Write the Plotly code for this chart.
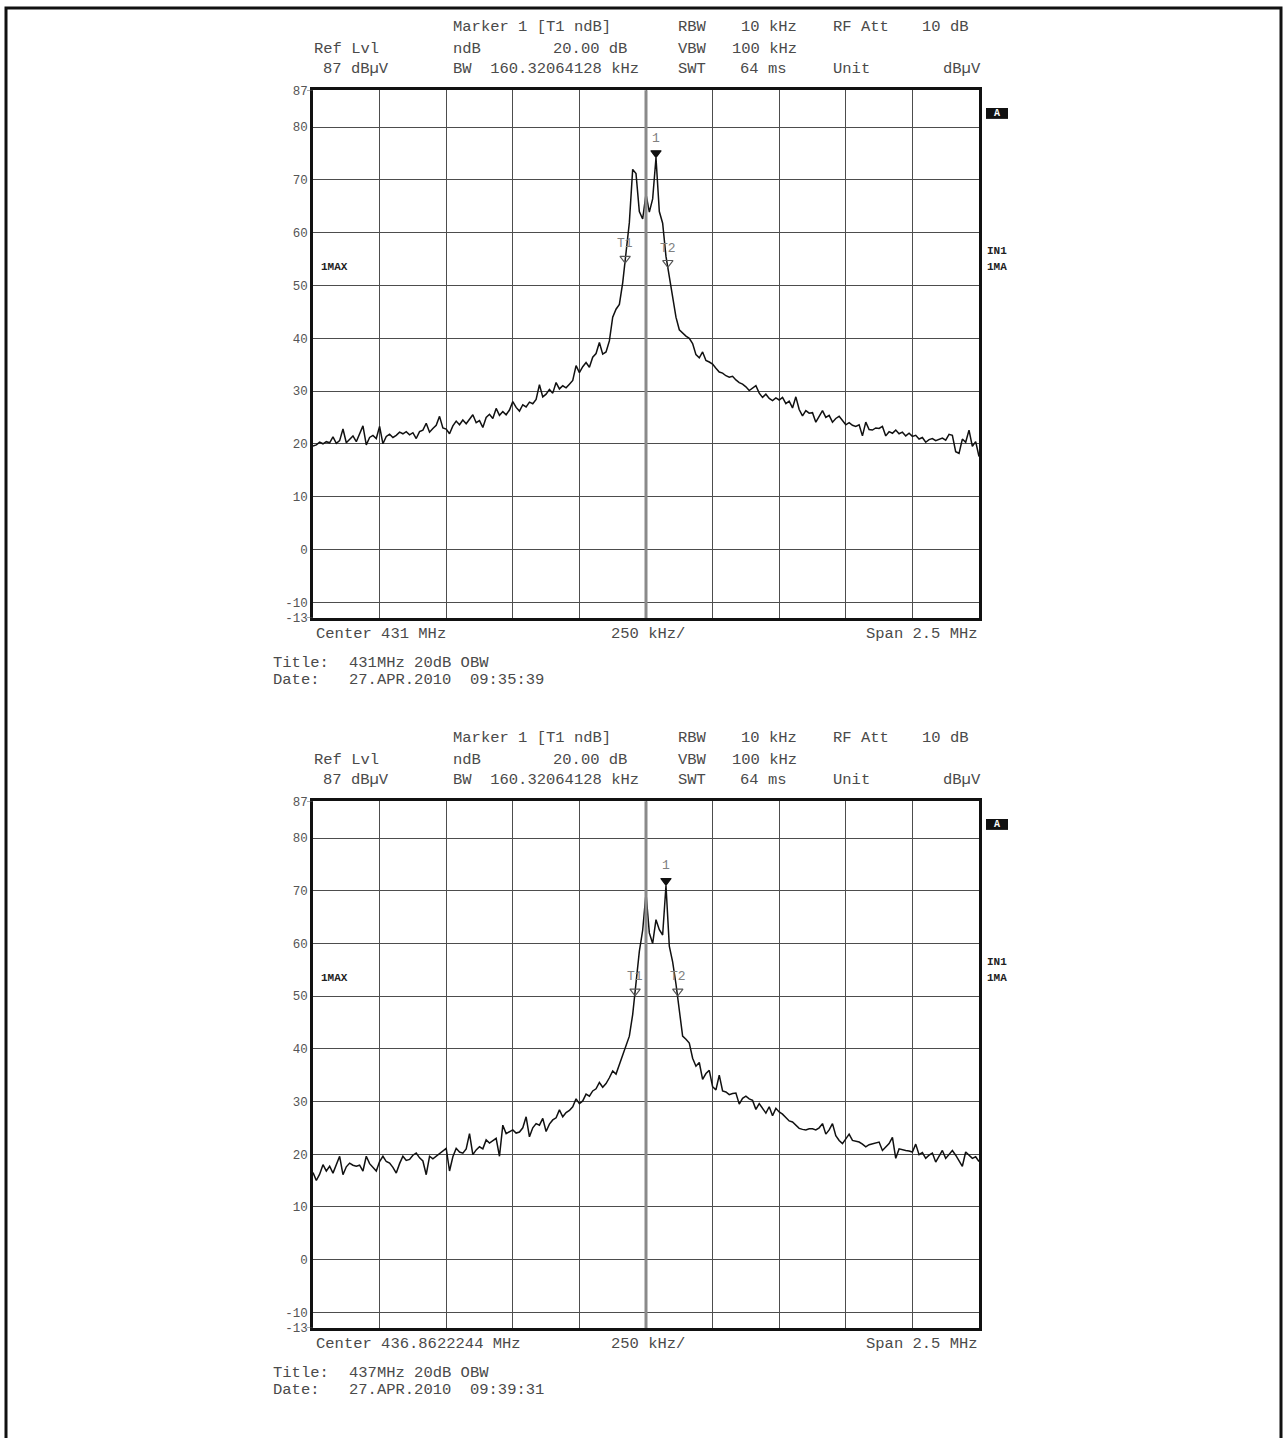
import numpy as np
import plotly.graph_objects as go

W, H = 1284, 1438

# Sweep: 201 points over a 2.5 MHz span (12.5 kHz per point)
SPAN_MHZ = 2.5
N_POINTS = 201

# Trace 1 (centre 431 MHz), level in dBµV
level_431 = [
    19.6, 19.8, 20.3, 20.0, 20.4, 20.2, 21.3, 20.1, 20.6, 22.8,
    20.2, 20.8, 21.5, 20.4, 21.9, 23.4, 19.8, 21.2, 21.6, 21.0,
    23.3, 20.0, 21.4, 21.8, 21.2, 21.6, 22.2, 21.9, 22.3, 21.7,
    22.1, 21.0, 22.3, 22.6, 23.9, 22.2, 22.9, 23.5, 25.2, 23.0,
    22.8, 21.9, 23.4, 24.3, 23.6, 24.5, 23.8, 24.6, 25.5, 24.0,
    24.4, 23.1, 25.0, 25.6, 24.8, 26.7, 25.4, 26.1, 25.5, 26.4,
    28.0, 26.9, 26.2, 27.4, 27.0, 27.9, 27.6, 28.4, 31.2, 28.9,
    29.4, 30.3, 29.6, 31.6, 30.4, 31.0, 30.6, 31.3, 32.0, 34.8,
    33.5, 34.6, 35.4, 34.5, 36.4, 37.1, 39.2, 37.0, 37.4, 39.5,
    44.0, 45.5, 46.4, 50.5, 55.8, 61.9, 72.0, 71.2, 64.0, 62.6,
    67.3, 63.9, 66.4, 74.2, 64.0, 61.8, 55.5, 51.5, 47.5, 44.0,
    41.6, 40.9, 40.4, 40.0, 39.0, 36.9, 36.3, 37.4, 35.8, 35.5,
    35.1, 34.3, 33.6, 33.4, 32.9, 32.6, 32.8, 32.1, 31.6, 31.3,
    30.8, 30.1, 30.6, 31.0, 29.6, 28.8, 29.4, 28.6, 28.2, 28.7,
    28.3, 28.8, 27.6, 28.1, 26.8, 28.9, 26.5, 25.3, 26.3, 25.8,
    25.9, 24.1, 25.2, 26.3, 25.0, 25.4, 24.1, 24.8, 25.2, 24.4,
    23.6, 24.0, 23.5, 23.3, 23.6, 21.5, 24.1, 22.7, 22.6, 23.0,
    22.9, 23.3, 21.5, 22.3, 22.0, 22.6, 21.9, 22.2, 21.5, 22.0,
    21.4, 21.6, 20.9, 21.2, 20.3, 20.8, 21.0, 20.6, 20.9, 21.1,
    20.7, 21.8, 21.6, 18.5, 18.2, 20.9, 20.3, 22.6, 19.5, 20.4,
    17.6,
]

# Trace 2 (centre 436.8622244 MHz), level in dBµV
level_437 = [
    16.5, 15.0, 16.2, 18.0, 16.8, 17.7, 16.4, 18.2, 19.6, 16.1,
    17.6, 18.3, 17.9, 17.7, 17.9, 16.8, 19.6, 18.2, 17.5, 16.8,
    18.6, 19.6, 18.6, 18.3, 17.5, 16.4, 18.2, 19.6, 18.8, 19.0,
    19.8, 20.2, 19.3, 18.7, 16.1, 19.6, 19.1, 19.6, 20.0, 20.5,
    21.1, 16.8, 19.5, 21.1, 20.4, 20.2, 21.0, 23.9, 19.9, 20.8,
    21.4, 21.0, 22.7, 22.1, 22.5, 23.0, 19.6, 25.5, 23.9, 24.2,
    24.6, 24.0, 24.2, 25.0, 27.1, 23.3, 25.0, 25.8, 25.5, 26.8,
    24.3, 25.7, 26.5, 26.9, 28.4, 27.1, 27.9, 28.3, 29.0, 30.5,
    29.6, 30.1, 31.4, 31.0, 32.0, 32.4, 33.6, 32.7, 33.4, 34.5,
    35.8, 35.2, 36.9, 38.8, 40.6, 42.4, 46.5, 53.0, 58.5, 62.5,
    69.5, 62.0, 60.0, 64.5, 62.6, 61.6, 71.0, 59.5, 56.5, 52.3,
    47.2, 42.4, 41.8, 41.1, 38.2, 36.7, 37.4, 34.2, 35.3, 35.9,
    32.8, 32.2, 35.0, 32.0, 31.8, 31.3, 31.5, 31.6, 29.5, 30.6,
    31.0, 30.5, 30.2, 28.5, 29.6, 28.6, 27.8, 29.0, 27.3, 28.7,
    28.0, 27.6, 26.9, 26.3, 26.1, 25.5, 24.9, 24.7, 24.6, 24.8,
    24.8, 24.6, 25.0, 25.8, 23.8, 24.6, 25.8, 23.5, 22.6, 22.0,
    22.9, 23.8, 22.6, 22.4, 22.3, 21.9, 21.4, 21.8, 22.0, 22.1,
    22.3, 20.7, 21.4, 22.0, 23.2, 19.2, 21.0, 20.8, 20.7, 20.6,
    20.4, 21.9, 19.9, 20.3, 19.2, 19.8, 20.2, 18.5, 19.5, 20.7,
    19.2, 20.0, 20.7, 19.8, 18.8, 17.7, 20.4, 19.8, 19.2, 19.5,
    18.6,
]

# Markers: name, offset from centre (kHz), level (dBµV)
markers_431 = [("1", 37.5, 74.2), ("T1", -78.3, 54.2), ("T2", 82.0, 53.4)]
markers_437 = [("1", 75.0, 71.0), ("T1", -41.0, 50.0), ("T2", 119.3, 50.0)]

y_ticks = [87, 80, 70, 60, 50, 40, 30, 20, 10, 0, -10, -13]

panels = [
    dict(center=431.0, level=level_431, markers=markers_431, top=85, bottom=618,
         center_text="Center 431 MHz", title="431MHz 20dB OBW",
         date="27.APR.2010  09:35:39"),
    dict(center=436.8622244, level=level_437, markers=markers_437, top=803, bottom=1335,
         center_text="Center 436.8622244 MHz", title="437MHz 20dB OBW",
         date="27.APR.2010  09:39:31"),
]

MONO = "Liberation Mono, DejaVu Sans Mono, monospace"
TXT = "#4a4a4a"
X_LEFT, X_RIGHT = 313, 979


def fx(p):
    return p / W


def fy(p):
    return 1 - p / H


fig = go.Figure()
annotations = []
shapes = []

# page frame
shapes.append(dict(type="rect", xref="paper", yref="paper",
                   x0=fx(6), x1=fx(1281), y0=fy(1460), y1=fy(2),
                   line=dict(color="#111", width=3), fillcolor="rgba(0,0,0,0)"))


def text(s, x, y, anchor="left", size=15.5, color=TXT, bold=False, bg=None):
    annotations.append(dict(
        text=f"<b>{s}</b>" if bold else s, x=fx(x), y=fy(y),
        xref="paper", yref="paper", xanchor=anchor, yanchor="middle",
        showarrow=False, font=dict(family=MONO, size=size, color=color),
        bgcolor=bg, borderpad=0))


for k, p in enumerate(panels):
    n = "" if k == 0 else str(k + 1)
    xa, ya = "x" + n, "y" + n
    c = p["center"]
    freq = c - SPAN_MHZ / 2 + np.arange(N_POINTS) * SPAN_MHZ / (N_POINTS - 1)

    fig.add_trace(go.Scatter(x=freq, y=p["level"], mode="lines", xaxis=xa, yaxis=ya,
                             line=dict(color="#111", width=1.5), showlegend=False,
                             hoverinfo="skip"))

    for name, off, lvl in p["markers"]:
        fm = c + off / 1000.0
        filled = name == "1"
        fig.add_trace(go.Scatter(
            x=[fm], y=[lvl + 0.9], mode="markers", xaxis=xa, yaxis=ya, showlegend=False,
            marker=dict(symbol="triangle-down" if filled else "triangle-down-open",
                        size=9, color="#111" if filled else "#555",
                        line=dict(width=1.2, color="#111" if filled else "#555"))))
        annotations.append(dict(text=name, x=fm, y=lvl, xref=xa, yref=ya,
                                showarrow=False, yanchor="bottom", yshift=10,
                                font=dict(family=MONO, size=13, color="#808080")))

    top, bot = p["top"], p["bottom"]
    fig.update_layout(**{
        ("xaxis" + n): dict(domain=[fx(X_LEFT), fx(X_RIGHT)], anchor=ya,
                            range=[c - SPAN_MHZ / 2, c + SPAN_MHZ / 2],
                            tick0=c, dtick=0.25, showticklabels=False,
                            showgrid=True, gridcolor="#4d4d4d", gridwidth=1,
                            zeroline=False, showline=True, mirror=True,
                            linecolor="#111", linewidth=2.5, ticks=""),
        ("yaxis" + n): dict(domain=[fy(bot), fy(top)], anchor=xa,
                            range=[-13, 87], tickmode="array", tickvals=y_ticks,
                            ticktext=[str(v) for v in y_ticks],
                            tickfont=dict(family=MONO, size=12.5, color="#555"),
                            showgrid=True, gridcolor="#4d4d4d", gridwidth=1,
                            zeroline=False, showline=True, mirror=True,
                            linecolor="#111", linewidth=2.5, ticks=""),
    })

    # short ticks at the reference level and at the bottom of the screen
    for yv in (87, -13):
        shapes.append(dict(type="line", xref="paper", yref=ya, x0=fx(307), x1=fx(313),
                           y0=yv, y1=yv, line=dict(color="#555", width=1)))

    # centre frequency line
    shapes.append(dict(type="line", xref=xa, yref=ya + " domain", x0=c, x1=c, y0=0, y1=1,
                       line=dict(color="#8a8a8a", width=3)))

    # instrument settings header
    r1, r2, r3 = top - 64, top - 42, top - 21
    text("Marker 1 [T1 ndB]", 452, r1)
    text("RBW", 677, r1)
    text("10 kHz", 798, r1, "right")
    text("RF Att", 832, r1)
    text("10 dB", 970, r1, "right")
    text("Ref Lvl", 313, r2)
    text("ndB", 452, r2)
    text("20.00 dB", 628, r2, "right")
    text("VBW", 677, r2)
    text("100 kHz", 798, r2, "right")
    text("87 dBµV", 322, r3)
    text("BW  160.32064128 kHz", 452, r3)
    text("SWT", 677, r3)
    text("64 ms", 788, r3, "right")
    text("Unit", 832, r3)
    text("dBµV", 982, r3, "right")

    # side labels
    text("1MAX", 320, top + 179, size=11, bold=True, color="#222")
    text("IN1", 986, top + 162, size=11, bold=True, color="#222")
    text("1MA", 986, top + 179, size=11, bold=True, color="#222")
    shapes.append(dict(type="rect", xref="paper", yref="paper",
                       x0=fx(986), x1=fx(1008), y0=fy(top + 29), y1=fy(top + 18),
                       fillcolor="#111", line=dict(width=0)))
    text("A", 997, top + 23.5, "center", size=10, bold=True, color="white")

    # footer
    text(p["center_text"], 315, bot + 16)
    text("250 kHz/", 648, bot + 16, "center")
    text("Span 2.5 MHz", 979, bot + 16, "right")
    text("Title:", 272, bot + 45)
    text(p["title"], 348, bot + 45)
    text("Date:", 272, bot + 63)
    text(p["date"], 348, bot + 63)

fig.update_layout(width=W, height=H, margin=dict(l=0, r=0, t=0, b=0),
                  paper_bgcolor="white", plot_bgcolor="white",
                  annotations=annotations, shapes=shapes, showlegend=False)

fig.write_html("out.html")
